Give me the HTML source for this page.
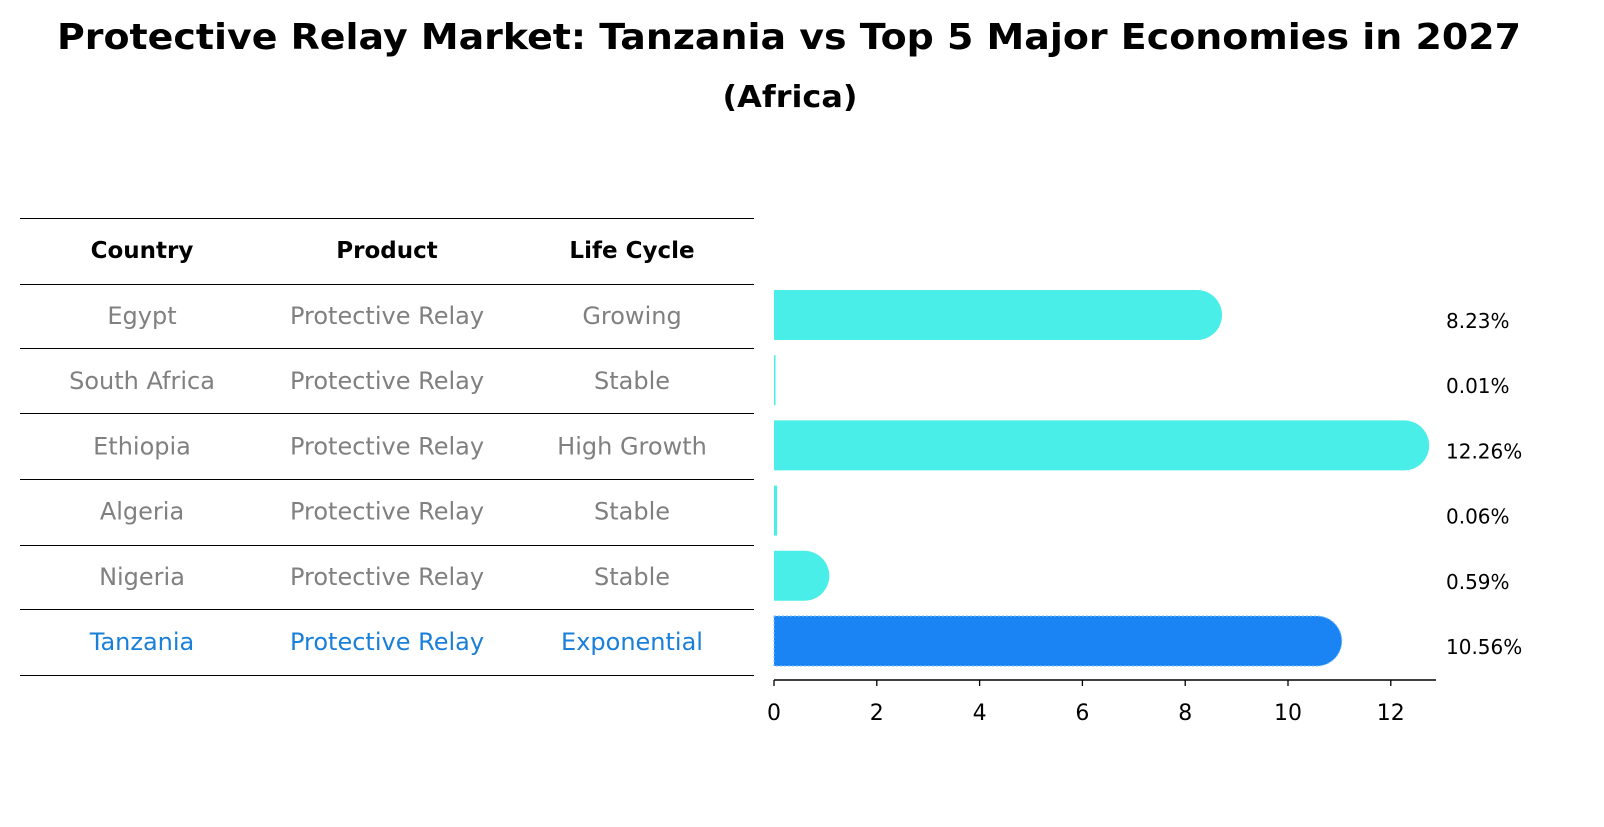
<!DOCTYPE html>
<html><head><meta charset="utf-8"><style>
body{margin:0;background:#fff;font-family:"DejaVu Sans","Liberation Sans",sans-serif;}
</style></head><body>
<svg width="1604" height="823" xmlns="http://www.w3.org/2000/svg" font-family="DejaVu Sans, Liberation Sans, sans-serif">
<text x="789" y="49" text-anchor="middle" font-size="36" font-weight="bold" textLength="1464" lengthAdjust="spacingAndGlyphs">Protective Relay Market: Tanzania vs Top 5 Major Economies in 2027</text>
<text x="790" y="107" text-anchor="middle" font-size="30" font-weight="bold" textLength="135" lengthAdjust="spacingAndGlyphs">(Africa)</text>
<g id="table"></g>
<g id="bars"></g>
</svg>
<script>
const countries=["Egypt","South Africa","Ethiopia","Algeria","Nigeria","Tanzania"];
const products=["Protective Relay","Protective Relay","Protective Relay","Protective Relay","Protective Relay","Protective Relay"];
const lifecycles=["Growing","Stable","High Growth","Stable","Stable","Exponential"];
const values=[8.23,0.01,12.26,0.06,0.59,10.56];
const ticks=[0,2,4,6,8,10,12];
const NS="http://www.w3.org/2000/svg";
function mk(t,a,p){const e=document.createElementNS(NS,t);for(const k in a)e.setAttribute(k,a[k]);p.appendChild(e);return e;}
const tbl=document.getElementById('table'),bars=document.getElementById('bars');
const lineYs=[218,284,348,413,479,545,609,675];
lineYs.forEach((y,i)=>{const l=mk('line',{x1:20,x2:754,y1:y+0.5,y2:y+0.5,stroke:'#000','stroke-width':1},tbl);

});
const colX=[142,387,632];
["Country","Product","Life Cycle"].forEach((h,i)=>{const t=mk('text',{x:colX[i],y:258,'text-anchor':'middle','font-size':23,'font-weight':'bold'},tbl);t.textContent=h;

});
const rowY=i=>316+i*65.2;
countries.forEach((c,i)=>{const col=i===countries.length-1?'#1a7fd8':'#808080';
[c,products[i],lifecycles[i]].forEach((v,j)=>{const t=mk('text',{x:colX[j],y:rowY(i)+8,'text-anchor':'middle','font-size':24,fill:col},tbl);t.textContent=v;

});});
const x0=774,sc=51.4,xs=v=>x0+v*sc,bh=50;
values.forEach((v,i)=>{const y=rowY(i)-bh/2-1;const w=Math.max(xs(v)-x0,1.5);
const last=i===values.length-1;const col=last?'#1a84f5':'#4aeee9';
let el;
if(v>0.3){const r=bh/2;el=mk('path',{d:`M${x0},${y} H${x0+w} A${r},${r} 0 0 1 ${x0+w},${y+bh} H${x0} Z`,fill:col},bars);}
else el=mk('rect',{x:x0,y:y,width:w,height:bh,fill:col},bars);
if(last){el.setAttribute('stroke','#7fbfff');el.setAttribute('stroke-dasharray','2,2');el.setAttribute('stroke-width','1');}


const t=mk('text',{x:1446,y:rowY(i)+12,'font-size':20},bars);t.textContent=v.toFixed(2)+'%';

});
const ax=mk('line',{x1:774,x2:1436,y1:680,y2:680,stroke:'#000','stroke-width':1.5},bars);


ticks.forEach(tv=>{const l=mk('line',{x1:xs(tv),x2:xs(tv),y1:680,y2:686,stroke:'#000','stroke-width':1.3},bars);


const t=mk('text',{x:xs(tv),y:720,'text-anchor':'middle','font-size':22},bars);t.textContent=tv;

});
</script>
</body></html>
